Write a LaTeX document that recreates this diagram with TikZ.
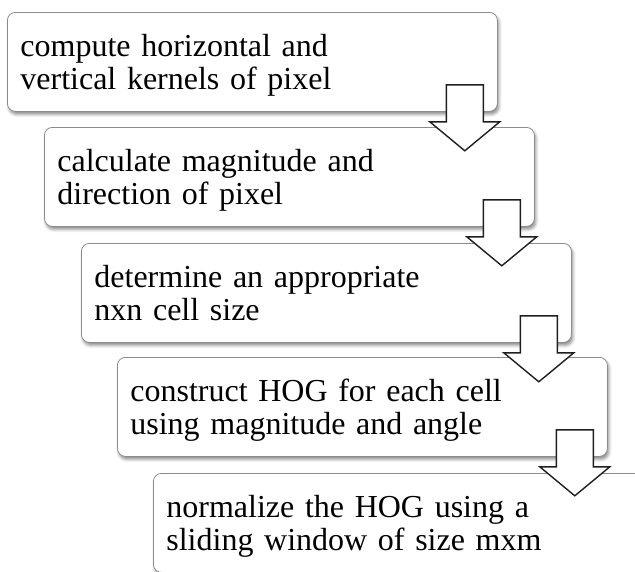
\documentclass[tikz,border=0pt]{standalone}
\usepackage{fontspec}
\setmainfont{Liberation Serif}
\usetikzlibrary{calc,shadows.blur}
\newcommand\flowarrow[1]{%
  \draw[blockarrow] ($(#1.south east)+(-51.5,-27)$) -- ++(37,0) -- ++(0,37) -- ++(16.5,0)
    -- ($(#1.south east)+(-33,39)$) -- ++(-35,-29) -- ++(16.5,0) -- cycle;}
\newcommand\firstline{\rule{0pt}{32pt}}
\begin{document}
\begin{tikzpicture}[x=1pt,y=-1pt,
  stepbox/.style={draw=black!45, line width=0.8pt, fill=white, rounded corners=8pt,
    anchor=north west, text width=464pt, inner xsep=13pt, minimum height=99pt,
    align=left, font=\fontsize{32}{32.5}\selectfont,
    blur shadow={shadow xshift=1.5pt, shadow yshift=-3pt, shadow blur radius=3pt, shadow opacity=45}},
  blockarrow/.style={draw=black!88, line width=1.4pt, fill=white, line join=miter}]
\useasboundingbox (0,0) rectangle (635,571);
\clip (0,0) rectangle (635,571);
\node[stepbox] (b1) at (7,12) {\firstline compute horizontal and\strut\\vertical kernels of pixel\strut};
\node[stepbox] (b2) at (44,127) {\firstline calculate magnitude and\strut\\direction of pixel\strut};
\flowarrow{b1}
\node[stepbox] (b3) at (81,243) {\firstline determine an appropriate\strut\\nxn cell size\strut};
\flowarrow{b2}
\node[stepbox] (b4) at (117,357) {\firstline construct HOG for each cell\strut\\using magnitude and angle\strut};
\flowarrow{b3}
\node[stepbox] (b5) at (153,473) {\firstline normalize the HOG using a\strut\\sliding window of size mxm\strut};
\flowarrow{b4}
\end{tikzpicture}
\end{document}
